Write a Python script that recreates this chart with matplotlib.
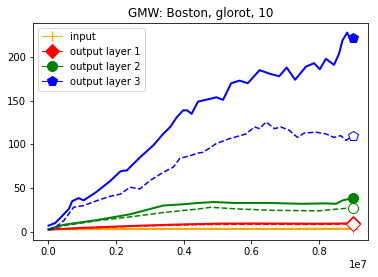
import numpy as np
import matplotlib
matplotlib.use('Agg')
import matplotlib.pyplot as plt
from matplotlib.ticker import MultipleLocator

# x positions are in units of 1e7 steps
x_l3 = [0, 0.02, 0.045, 0.06, 0.07, 0.089, 0.104, 0.12, 0.143, 0.182, 0.212, 0.222, 0.231, 0.27, 0.31,
        0.339, 0.36, 0.379, 0.398, 0.41, 0.423, 0.442, 0.476, 0.496, 0.516, 0.54, 0.565, 0.589, 0.624,
        0.653, 0.682, 0.704, 0.729, 0.761, 0.785, 0.802, 0.82, 0.844, 0.859, 0.869, 0.883, 0.89, 0.9]
y_l3 = [7, 10, 20, 26, 35, 38.5, 36, 40, 46, 58, 69, 70, 70, 85, 99,
        112, 120, 131, 139, 139, 135, 149, 152, 154, 151, 170, 173, 170, 185,
        181, 178, 188, 174, 189, 193, 186, 198, 191, 204, 219, 228, 222, 222]

x_l3b = [0, 0.02, 0.045, 0.074, 0.104, 0.143, 0.182, 0.212, 0.241, 0.27, 0.3, 0.339, 0.369, 0.388, 0.418,
         0.442, 0.457, 0.496, 0.535, 0.584, 0.609, 0.624, 0.643, 0.668, 0.687, 0.712, 0.736, 0.756, 0.79,
         0.82, 0.844, 0.864, 0.88, 0.9]
y_l3b = [2, 5, 12.6, 28, 30, 35.6, 40.6, 43, 51, 49, 58.6, 68, 74, 84, 87,
         90, 91, 101, 106.5, 112, 120, 118, 125.7, 118, 120, 116, 108, 113, 114,
         112, 108, 110, 104.6, 110]

x_l2 = [0, 0.045, 0.143, 0.241, 0.3, 0.339, 0.4, 0.442, 0.49, 0.55, 0.65, 0.75, 0.82, 0.85, 0.87, 0.9]
y_l2 = [3, 8, 13.4, 20, 26, 30, 31.5, 33, 34, 33, 33, 32, 32.5, 32, 36, 38.5]

x_l2b = [0, 0.045, 0.143, 0.241, 0.339, 0.442, 0.48, 0.565, 0.668, 0.8, 0.869, 0.9]
y_l2b = [2, 7, 12.6, 17, 22, 26, 28, 26, 24.5, 24, 26.5, 27.5]

x_l1 = [0, 0.1, 0.2, 0.27, 0.4, 0.5, 0.6, 0.7, 0.8, 0.9]
y_l1 = [2.5, 4.5, 6, 7, 8.5, 9.3, 9.5, 9.4, 9.2, 9.6]
y_l1b = [2.5, 4, 5.5, 6.5, 7.8, 8.4, 8.6, 8.5, 8.4, 9]

x_in = [0, 0.3, 0.6, 0.9]
y_in = [3, 3.3, 3.4, 3.5]
y_inb = [2.6, 2.8, 2.9, 3]

series = [
    ('input', 'orange', '+', x_in, y_in, x_in, y_inb),
    ('output layer 1', 'red', 'D', x_l1, y_l1, x_l1, y_l1b),
    ('output layer 2', 'green', 'o', x_l2, y_l2, x_l2b, y_l2b),
    ('output layer 3', 'blue', 'p', x_l3, y_l3, x_l3b, y_l3b),
]

fig = plt.figure(figsize=(378/72, 277/72), dpi=72)
ax = fig.add_axes([0.088, 0.134, 0.886, 0.784])

for label, c, m, xs, ys, xsb, ysb in series:
    ax.plot(np.array(xs)*1e7, ys, '-', color=c, lw=2, marker=m, ms=10, markevery=[-1], label=label)
    ax.plot(np.array(xsb)*1e7, ysb, '--', color=c, lw=1.5, marker=m, ms=10, markevery=[-1], mfc='white')

ax.xaxis.set_major_locator(MultipleLocator(2e6))
ax.ticklabel_format(axis='x', style='sci', scilimits=(7, 7))
ax.set_title('GMW: Boston, glorot, 10', fontsize=12)
ax.tick_params(labelsize=10)
leg = ax.legend(loc='upper left', fontsize=10)
for ln in leg.get_lines():
    ln.set_linewidth(1)

fig.savefig('out.png', dpi=72)
